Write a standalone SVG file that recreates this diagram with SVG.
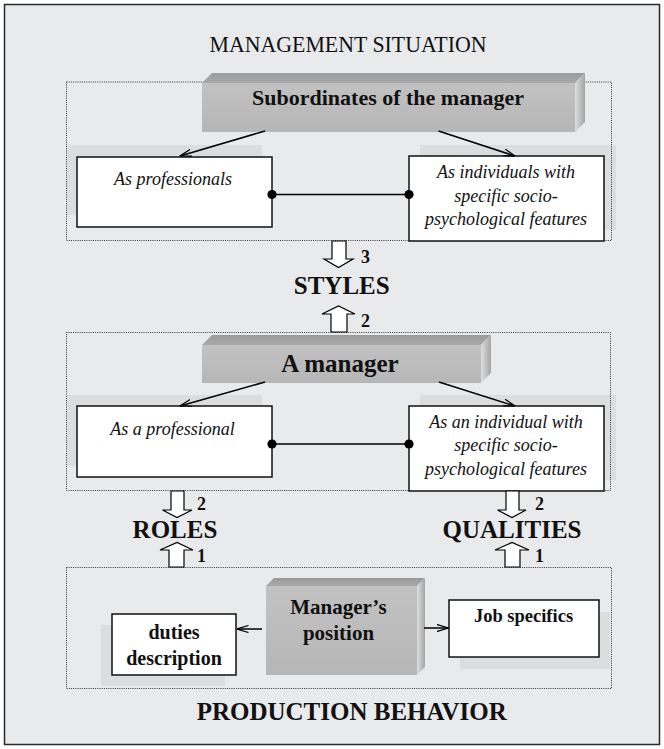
<svg xmlns="http://www.w3.org/2000/svg" width="664" height="749" viewBox="0 0 664 749">
  <defs>
    <linearGradient id="gFront" x1="0" y1="0" x2="0" y2="1">
      <stop offset="0" stop-color="#c2c2c2"/>
      <stop offset="1" stop-color="#b6b6b6"/>
    </linearGradient>
    <linearGradient id="gTop" x1="0" y1="0" x2="0" y2="1">
      <stop offset="0" stop-color="#9a9a9a"/>
      <stop offset="1" stop-color="#a9a9a9"/>
    </linearGradient>
    <linearGradient id="gSide" x1="0" y1="0" x2="1" y2="0">
      <stop offset="0" stop-color="#dedede"/>
      <stop offset="1" stop-color="#a4a4a4"/>
    </linearGradient>
    <marker id="arrow" viewBox="0 0 12 8" refX="11.5" refY="4" markerWidth="12" markerHeight="8" markerUnits="userSpaceOnUse" orient="auto">
      <path d="M0,0.5 L11.5,4 L0,7.5" fill="none" stroke="#000" stroke-width="1.2"/>
    </marker>
    <marker id="dot" viewBox="0 0 10 10" refX="5" refY="5" markerWidth="10" markerHeight="10" markerUnits="userSpaceOnUse">
      <circle cx="5" cy="5" r="4.6" fill="#000"/>
    </marker>
  </defs>
  <style>
    .frame { fill: #e9eaec; stroke: #2a2a2a; stroke-width: 1.5; }
    .zone { fill: none; stroke: #333; stroke-width: 1; stroke-dasharray: 1 1.2; }
    .shadow { fill: #dcdddf; }
    .card { fill: #fff; stroke: #111; stroke-width: 1.5; }
    .front { fill: url(#gFront); }
    .top { fill: url(#gTop); }
    .side { fill: url(#gSide); }
    .link { fill: none; stroke: #000; stroke-width: 1.5; }
    .block { fill: #fff; stroke: #000; stroke-width: 1.2; stroke-linejoin: miter; }
    text { font-family: "Liberation Serif", "Times New Roman", serif; fill: #111; text-anchor: middle; }
    .title { font-size: 23px; }
    .head { font-size: 22px; font-weight: bold; }
    .big { font-size: 25px; font-weight: bold; }
    .it { font-size: 18px; font-style: italic; }
    .num { font-size: 18px; font-weight: bold; text-anchor: start; }
    .small { font-size: 20px; font-weight: bold; }
  </style>

  <!-- outer frame -->
  <rect class="frame" x="4.5" y="4.5" width="655" height="740"/>
  <text class="title" x="348" y="52" textLength="277" lengthAdjust="spacingAndGlyphs">MANAGEMENT SITUATION</text>

  <!-- drop shadows of the white cards -->
  <g id="shadows">
    <rect class="shadow" x="67" y="145" width="195" height="70"/>
    <rect class="shadow" x="420" y="145" width="196" height="85"/>
    <rect class="shadow" x="67" y="395" width="195" height="71"/>
    <rect class="shadow" x="420" y="395" width="196" height="85"/>
    <rect class="shadow" x="101" y="625" width="124" height="61"/>
    <rect class="shadow" x="460" y="612" width="150" height="57"/>
  </g>

  <!-- dotted zones -->
  <g id="zones">
    <rect class="zone" x="66.5" y="82" width="545" height="158.5"/>
    <rect class="zone" x="66.5" y="332.5" width="544" height="158"/>
    <rect class="zone" x="66.5" y="567.5" width="545" height="121"/>
  </g>

  <!-- upper zone -->
  <g id="subordinates">
    <polygon class="top" points="202,83 212,73 585,73 575,83"/>
    <polygon class="side" points="575,83 585,73 585,122 575,132"/>
    <rect class="front" x="202" y="83" width="373" height="49"/>
    <text class="head" x="388" y="105">Subordinates of the manager</text>
  </g>
  <g id="sub-professionals">
    <rect class="card" x="77" y="157" width="195" height="70"/>
    <text class="it" x="173" y="185">As professionals</text>
  </g>
  <g id="sub-individuals">
    <rect class="card" x="409" y="156" width="195" height="85"/>
    <text class="it" x="506" y="178">As individuals with</text>
    <text class="it" x="506" y="201.5">specific socio-</text>
    <text class="it" x="506" y="225">psychological features</text>
  </g>

  <!-- middle zone -->
  <g id="manager">
    <polygon class="top" points="202,345 212,335 491,335 481,345"/>
    <polygon class="side" points="481,345 491,335 491,373 481,383"/>
    <rect class="front" x="202" y="345" width="279" height="38"/>
    <text class="big" x="340" y="372">A manager</text>
  </g>
  <g id="mgr-professional">
    <rect class="card" x="77" y="406" width="195" height="71"/>
    <text class="it" x="172.5" y="435">As a professional</text>
  </g>
  <g id="mgr-individual">
    <rect class="card" x="409" y="406" width="195" height="85"/>
    <text class="it" x="506" y="427.5">As an individual with</text>
    <text class="it" x="506" y="451">specific socio-</text>
    <text class="it" x="506" y="474.5">psychological features</text>
  </g>

  <!-- lower zone -->
  <g id="position">
    <polygon class="top" points="266,586 274,578 425,578 417,586"/>
    <polygon class="side" points="417,586 425,578 425,667 417,675"/>
    <rect class="front" x="266" y="586" width="151" height="89"/>
    <text style="font-size:21px;font-weight:bold" x="338.5" y="613.5">Manager’s</text>
    <text style="font-size:21px;font-weight:bold" x="338.5" y="640">position</text>
  </g>
  <g id="duties">
    <rect class="card" x="112" y="614" width="124" height="61"/>
    <text class="small" x="174" y="638.5">duties</text>
    <text class="small" x="174" y="665">description</text>
  </g>
  <g id="job">
    <rect class="card" x="449" y="600" width="150" height="57"/>
    <text style="font-size:18.5px;font-weight:bold" x="523.5" y="622">Job specifics</text>
  </g>

  <!-- result labels -->
  <g id="styles"><text class="big" x="341.7" y="294">STYLES</text></g>
  <g id="roles"><text class="big" x="175" y="537.5">ROLES</text></g>
  <g id="qualities"><text class="big" x="512" y="537.5">QUALITIES</text></g>
  <text class="big" x="351.7" y="720">PRODUCTION BEHAVIOR</text>

  <!-- connectors -->
  <g id="connectors">
    <line class="link" x1="265" y1="131" x2="180" y2="156" marker-end="url(#arrow)"/>
    <line class="link" x1="438.5" y1="131" x2="515" y2="156" marker-end="url(#arrow)"/>
    <line class="link" x1="272" y1="194.5" x2="409" y2="194.5" marker-start="url(#dot)" marker-end="url(#dot)"/>

    <line class="link" x1="265" y1="382" x2="180" y2="406" marker-end="url(#arrow)"/>
    <line class="link" x1="439" y1="382" x2="515" y2="406" marker-end="url(#arrow)"/>
    <line class="link" x1="272" y1="444" x2="409" y2="444" marker-start="url(#dot)" marker-end="url(#dot)"/>

    <line class="link" x1="262" y1="629" x2="237" y2="629" marker-end="url(#arrow)"/>
    <line class="link" x1="424" y1="628" x2="448.5" y2="628" marker-end="url(#arrow)"/>

    <!-- block arrows with their step numbers -->
    <polygon class="block" points="332,241 346,241 346,259 353,259 338.5,267.5 324,259 332,259"/>
    <text class="num" x="361" y="263">3</text>
    <polygon class="block" points="331,332 347,332 347,314 355,314 338.5,306 322,314 331,314"/>
    <text class="num" x="361" y="327">2</text>

    <polygon class="block" points="171,491 184,491 184,510 192,510 177,517.5 162.5,510 171,510"/>
    <text class="num" x="197" y="510">2</text>
    <polygon class="block" points="169,567 184,567 184,550 193,550 177,542.5 160,550 169,550"/>
    <text class="num" x="197" y="562">1</text>

    <polygon class="block" points="506,491 519,491 519,510 526,510 512,517.5 497.5,510 506,510"/>
    <text class="num" x="535" y="510">2</text>
    <polygon class="block" points="505,567 520,567 520,550 529,550 512,542.5 495,550 505,550"/>
    <text class="num" x="535" y="562">1</text>
  </g>
</svg>
